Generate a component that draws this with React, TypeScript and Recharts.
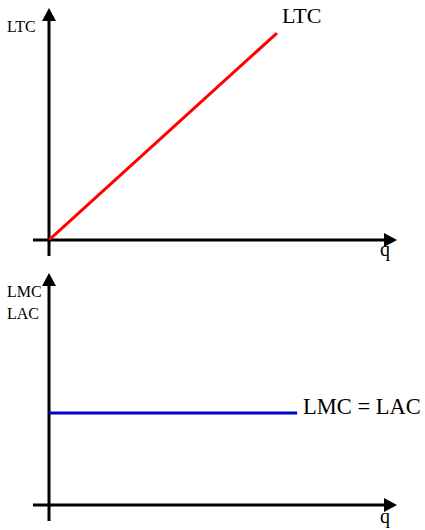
import React from 'react';
import { LineChart, Line, XAxis, YAxis, ReferenceLine } from 'recharts';

// Top panel: long-run total cost
const qTop = [0, 65.5];
const ltcValues = [0, 89.2];
const topCurveLabel = 'LTC';
const topAxisLabels = ['LTC'];

// Bottom panel: long-run marginal = average cost
const qBottom = [0, 71.3];
const lmcLacValues = [39.7, 39.7];
const bottomCurveLabel = 'LMC = LAC';
const bottomAxisLabels = ['LMC', 'LAC'];

const xAxisLabel = 'q';

const topData = qTop.map((q, i) => ({ q, v: ltcValues[i] }));
const bottomData = qBottom.map((q, i) => ({ q, v: lmcLacValues[i] }));

const FONT = "'Liberation Serif', 'Times New Roman', serif";
const W = 425;
const H = 265;
const MARGIN = { top: 8, left: 49, right: 28, bottom: 25 };

const makeArrow = (kind: 'x' | 'y', labels: string[], qOffset: number) => (props: any) => {
  const { x1, y1, x2, y2 } = props;
  const dx = x2 - x1;
  const dy = y2 - y1;
  const len = Math.hypot(dx, dy) || 1;
  const ux = dx / len;
  const uy = dy / len;
  const headLen = 13;
  const headHalf = 7;
  const bx = x2 - ux * headLen;
  const by = y2 - uy * headLen;
  const px = -uy;
  const py = ux;
  return (
    <g>
      <line x1={x1} y1={y1} x2={bx + ux * 2} y2={by + uy * 2} stroke="#000" strokeWidth={3} />
      <polygon
        points={`${x2},${y2} ${bx + px * headHalf},${by + py * headHalf} ${bx - px * headHalf},${by - py * headHalf}`}
        fill="#000"
      />
      {kind === 'y'
        ? labels.map((t, i) => (
            <text key={t} x={x2 - 42} y={y2 + 24 + i * 22} fontSize={16} fontFamily={FONT} fill="#000">
              {t}
            </text>
          ))
        : labels.map((t) => (
            <text key={t} x={x2 - 17} y={y2 + qOffset} fontSize={20} fontFamily={FONT} fill="#000">
              {t}
            </text>
          ))}
    </g>
  );
};

const makeEndLabel = (text: string, n: number, dx: number, dy: number, size: number) => (p: any) => {
  if (p.index !== n - 1) return <g />;
  return (
    <text x={p.x + dx} y={p.y + dy} fontSize={size} fontFamily={FONT} fill="#000">
      {text}
    </text>
  );
};

const Panel = ({
  data,
  color,
  axisLabels,
  curveLabel,
  dx,
  dy,
  size,
  qOffset,
}: {
  data: { q: number; v: number }[];
  color: string;
  axisLabels: string[];
  curveLabel: string;
  dx: number;
  dy: number;
  size: number;
  qOffset: number;
}) => (
  <LineChart width={W} height={H} data={data} margin={MARGIN}>
    <XAxis dataKey="q" type="number" domain={[0, 100]} hide allowDataOverflow />
    <YAxis type="number" domain={[0, 100]} hide allowDataOverflow />
    <ReferenceLine
      segment={[{ x: -4.6, y: 0 }, { x: 100, y: 0 }]}
      ifOverflow="visible"
      shape={makeArrow('x', [xAxisLabel], qOffset)}
    />
    <ReferenceLine
      segment={[{ x: 0, y: -6.9 }, { x: 0, y: 100 }]}
      ifOverflow="visible"
      shape={makeArrow('y', axisLabels, qOffset)}
    />
    <Line
      dataKey="v"
      type="linear"
      stroke={color}
      strokeWidth={3}
      dot={false}
      activeDot={false}
      isAnimationActive={false}
      label={makeEndLabel(curveLabel, data.length, dx, dy, size)}
    />
  </LineChart>
);

export default function App() {
  return (
    <div style={{ position: 'absolute', left: 0, top: 0, width: W, height: 530, background: '#fff' }}>
      <div style={{ position: 'absolute', left: 0, top: 0 }}>
        <Panel data={topData} color="#ff0000" axisLabels={topAxisLabels} curveLabel={topCurveLabel} dx={5} dy={-10} size={22} qOffset={16} />
      </div>
      <div style={{ position: 'absolute', left: 0, top: 265 }}>
        <Panel data={bottomData} color="#0000cc" axisLabels={bottomAxisLabels} curveLabel={bottomCurveLabel} dx={6} dy={1} size={22.5} qOffset={18} />
      </div>
    </div>
  );
}
